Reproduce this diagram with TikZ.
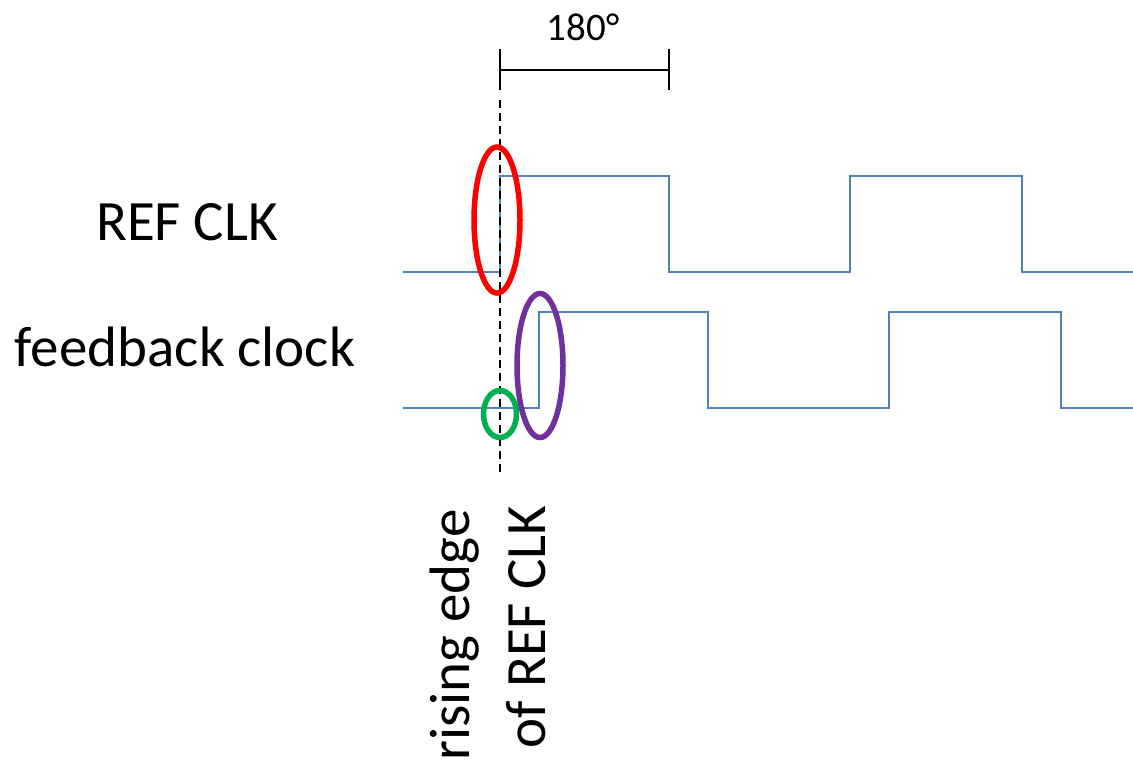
\documentclass[tikz,border=0pt]{standalone}
\usepackage{fontspec}
\setmainfont{Carlito}
\definecolor{wave}{RGB}{79,129,189}
\definecolor{mpurple}{RGB}{112,48,160}
\definecolor{mgreen}{RGB}{0,176,80}
\begin{document}
\begin{tikzpicture}[x=1pt,y=-1pt,
  wavestyle/.style={draw=wave,line width=2.2pt,line join=miter},
  ring/.style={line width=5.5pt},
  lbl/.style={inner sep=0pt,anchor=base,font=\fontsize{57}{60}\selectfont},
  brk/.style={draw=black,line width=2.2pt}]
\useasboundingbox (0,0) rectangle (1133,761);
% labels
\node[lbl] (ref) at (187,240) {REF CLK};
\node[lbl] (fb) at (185,366) {feedback clock};
\node[lbl,rotate=90] (rise) at (469,635) {rising edge};
\node[lbl,rotate=90] (of) at (545,627) {of REF CLK};
% 180 bracket
\coordinate (b1) at (500,70);
\coordinate (b2) at (669,70);
\draw[brk] (500,49) -- (500,90);
\draw[brk] (669,49) -- (669,90);
\draw[brk] (b1) -- (b2);
\node[inner sep=0pt,anchor=base,font=\fontsize{39}{42}\selectfont] (deg) at (583,40) {180°};
% waveforms
\draw[wavestyle] (403,272) -- (500,272) -- (500,176) -- (669,176) -- (669,272)
  -- (850,272) -- (850,176) -- (1022,176) -- (1022,272) -- (1133,272);
\draw[wavestyle] (403,408) -- (539,408) -- (539,312) -- (708,312) -- (708,408)
  -- (889,408) -- (889,312) -- (1061,312) -- (1061,408) -- (1133,408);
% dashed reference line
\coordinate (dtop) at (500,100);
\coordinate (dbot) at (500,476);
\draw[black,line width=2.4pt,dash pattern=on 8pt off 5pt] (dtop) -- (dbot);
% ellipses
\draw[ring,red] (497,220) ellipse [x radius=23pt, y radius=73pt];
\draw[ring,mpurple] (540,365.5) ellipse [x radius=23pt, y radius=72pt];
\draw[ring,mgreen] (500,414) ellipse [x radius=16.5pt, y radius=23.5pt];
\end{tikzpicture}
\end{document}
